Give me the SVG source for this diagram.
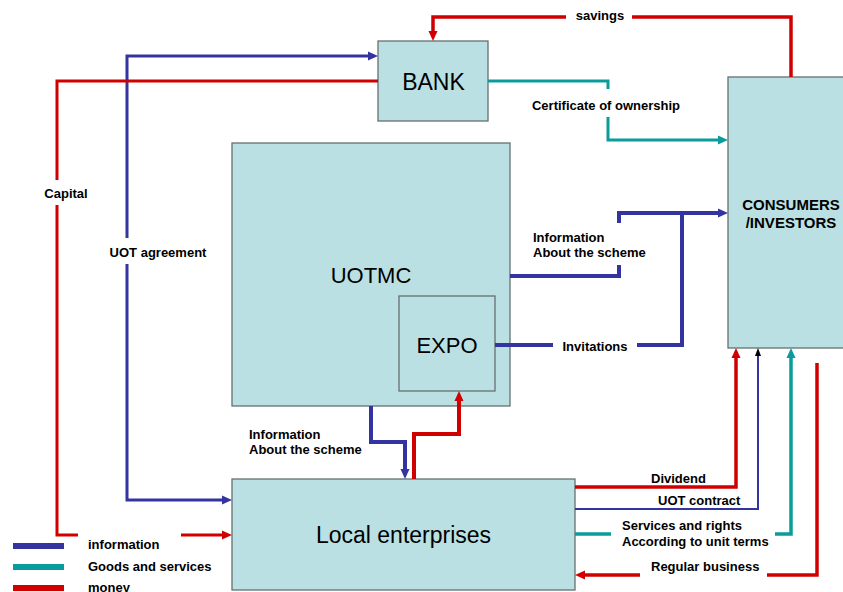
<svg xmlns="http://www.w3.org/2000/svg" width="843" height="592" viewBox="0 0 843 592">
<style>
.box{fill:#bae0e3;stroke:#667070;stroke-width:1.3}
.big{font-family:"Liberation Sans",Arial,sans-serif;fill:#000}
.lbl{font-family:"Liberation Sans",Arial,sans-serif;font-weight:bold;font-size:13px;fill:#000}
.c{fill:none;stroke-linejoin:miter;stroke-linecap:butt}
.b{stroke:#3434a0}
.r{stroke:#d00000}
.t{stroke:#0a9c9c}
</style>
<defs>
<marker id="ab" markerUnits="userSpaceOnUse" markerWidth="10" markerHeight="10" refX="2" refY="5" orient="auto" viewBox="0 0 10 10"><path d="M0,0.5 L10,5 L0,9.5 z" fill="#3434a0"/></marker>
<marker id="ar" markerUnits="userSpaceOnUse" markerWidth="10" markerHeight="10" refX="2" refY="5" orient="auto" viewBox="0 0 10 10"><path d="M0,0.5 L10,5 L0,9.5 z" fill="#d00000"/></marker>
<marker id="at" markerUnits="userSpaceOnUse" markerWidth="10" markerHeight="10" refX="2" refY="5" orient="auto" viewBox="0 0 10 10"><path d="M0,0.5 L10,5 L0,9.5 z" fill="#0a9c9c"/></marker>
<marker id="ak" markerUnits="userSpaceOnUse" markerWidth="8" markerHeight="6" refX="2" refY="3" orient="auto" viewBox="0 0 8 6"><path d="M0,0 L8,3 L0,6 z" fill="#000"/></marker>
</defs>

<g id="bank"><rect class="box" x="378" y="41" width="110" height="80"/><text class="big" x="433.5" y="90" font-size="23" text-anchor="middle">BANK</text></g>
<g id="uotmc"><rect class="box" x="232" y="143" width="278" height="263"/><text class="big" x="371" y="283" font-size="22" text-anchor="middle">UOTMC</text></g>
<g id="expo"><rect class="box" x="399" y="296" width="96" height="95"/><text class="big" x="447" y="353" font-size="22" text-anchor="middle">EXPO</text></g>
<g id="consumers"><rect class="box" x="728" y="77" width="125" height="271"/><text class="lbl" x="791" y="210" font-size="15" style="font-size:15px" text-anchor="middle">CONSUMERS</text><text class="lbl" x="791" y="228" style="font-size:15px" text-anchor="middle">/INVESTORS</text></g>
<g id="local"><rect class="box" x="232" y="479" width="343" height="111"/><text class="big" x="403.5" y="543" font-size="23" text-anchor="middle">Local enterprises</text></g>

<g id="connectors">
<path class="c r" stroke-width="3.5" d="M791,77 V17 H632"/>
<path class="c r" stroke-width="3.5" d="M566,17 H433 V33" marker-end="url(#ar)"/>
<path class="c t" stroke-width="3" d="M488,81 H608 V89"/>
<path class="c t" stroke-width="3" d="M608,117 V140 H720" marker-end="url(#at)"/>
<path class="c b" stroke-width="3" d="M127,238 V56 H370" marker-end="url(#ab)"/>
<path class="c b" stroke-width="3" d="M127,264 V500 H224" marker-end="url(#ab)"/>
<path class="c r" stroke-width="3" d="M378,81 H57 V180"/>
<path class="c r" stroke-width="3" d="M57,205 V535 H78"/>
<path class="c r" stroke-width="3" d="M181,535 H224" marker-end="url(#ar)"/>
<path class="c b" stroke-width="4" d="M510,276 H619 V265"/>
<path class="c b" stroke-width="4" d="M619,223 V213 H720" marker-end="url(#ab)"/>
<path class="c b" stroke-width="4" d="M495,345 H553"/>
<path class="c b" stroke-width="4" d="M637,345 H682 V213"/>
<path class="c b" stroke-width="4" d="M371,406 V442 H405 V471" marker-end="url(#ab)"/>
<path class="c r" stroke-width="4" d="M414,479 V434 H459 V399" marker-end="url(#ar)"/>
<path class="c r" stroke-width="3.5" d="M575,487 H736 V356" marker-end="url(#ar)"/>
<path class="c b" stroke-width="2" d="M575,509 H758 V354" marker-end="url(#ak)"/>
<path class="c t" stroke-width="3.5" d="M575,534 H611"/>
<path class="c t" stroke-width="3.5" d="M775,534 H791 V356" marker-end="url(#at)"/>
<path class="c r" stroke-width="3.5" d="M817,363 V575 H767"/>
<path class="c r" stroke-width="3.5" d="M640,575 H583" marker-end="url(#ar)"/>
</g>

<g id="labels">
<text class="lbl" x="600" y="20" text-anchor="middle">savings</text>
<text class="lbl" x="606" y="110" text-anchor="middle">Certificate of ownership</text>
<text class="lbl" x="66" y="198" text-anchor="middle">Capital</text>
<text class="lbl" x="158" y="257" text-anchor="middle">UOT agreement</text>
<text class="lbl" x="533" y="242">Information</text>
<text class="lbl" x="533" y="257">About the scheme</text>
<text class="lbl" x="595" y="351" text-anchor="middle">Invitations</text>
<text class="lbl" x="249" y="439">Information</text>
<text class="lbl" x="249" y="454">About the scheme</text>
<text class="lbl" x="651" y="483">Dividend</text>
<text class="lbl" x="658" y="505">UOT contract</text>
<text class="lbl" x="622" y="530">Services and rights</text>
<text class="lbl" x="622" y="546">According to unit terms</text>
<text class="lbl" x="651" y="571">Regular business</text>
</g>

<g id="legend">
<line x1="13" y1="546" x2="64" y2="546" stroke="#3434a0" stroke-width="6"/>
<line x1="13" y1="567" x2="64" y2="567" stroke="#0a9c9c" stroke-width="6"/>
<line x1="13" y1="588" x2="64" y2="588" stroke="#d00000" stroke-width="6"/>
<text class="lbl" x="88" y="549">information</text>
<text class="lbl" x="88" y="571">Goods and services</text>
<text class="lbl" x="88" y="592">money</text>
</g>
</svg>
